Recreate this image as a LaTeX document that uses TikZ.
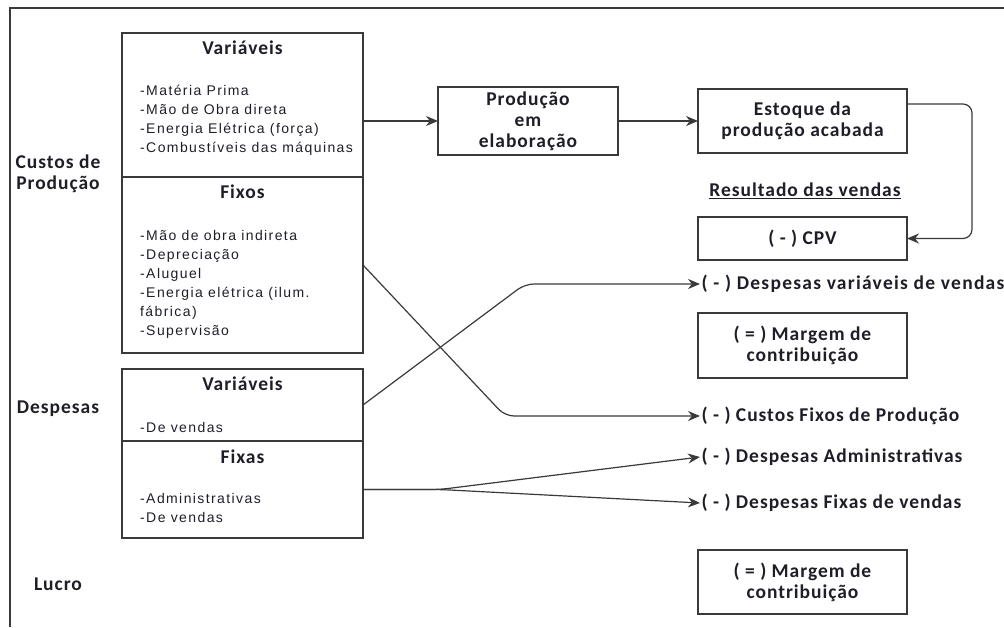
\documentclass[tikz,border=0pt]{standalone}
\usepackage{fontspec}
\usetikzlibrary{arrows.meta}
\newfontfamily\calfont[LetterSpace=5]{Carlito}
\newfontfamily\calwide[LetterSpace=6.5]{Carlito}
\newfontfamily\arialfont[LetterSpace=10]{Liberation Sans}
\newcommand\headtxt{\calfont\bfseries\fontsize{19.5}{21}\selectfont}
\newcommand\itemtxt{\arialfont\fontsize{14}{19}\selectfont}
\definecolor{linegray}{HTML}{3A3A3A}
\definecolor{txtdark}{HTML}{1E1E28}
\tikzset{
  box/.style={draw=linegray, line width=1.3pt, inner sep=0pt, outer sep=0pt},
  head/.style={font=\headtxt, text=txtdark, align=center, inner sep=0pt},
  item/.style={font=\itemtxt, text=txtdark, align=left, anchor=base west, inner sep=0pt},
  lab/.style={font=\headtxt, text=txtdark, anchor=west, inner xsep=1.5pt, inner ysep=0pt},
  conn/.style={draw=linegray, line width=1.2pt, rounded corners=9pt},
  arr/.style={conn, -{Stealth[length=12pt,width=10pt]}}
}
\begin{document}
\begin{tikzpicture}[x=1pt,y=-1pt]
\useasboundingbox (0,0) rectangle (1004,627);
% moldura
\draw[linegray, line width=1.3pt] (10,627) -- (10,8) -- (1004,8);
% rotulos da esquerda
\node[head] (custos) at (58,174) {Custos de\\Produção};
\node[head] (desp) at (58,409) {Despesas};
\node[head] (lucro) at (58,584) {Lucro};
% custos de producao (base = ultima linha)
\node[box, minimum width=241pt, minimum height=144pt] (cvar) at (242.5,105) {};
\node[box, minimum width=241pt, minimum height=176pt] (cfix) at (242.5,265) {};
\node[head] at (242.5,48) {Variáveis};
\node[item] at (140,152) {-Matéria Prima\\-Mão de Obra direta\\-Energia Elétrica (força)\\-Combustíveis das máquinas};
\node[head] at (242.5,192) {Fixos};
\node[item] at (140,335) {-Mão de obra indireta\\-Depreciação\\-Aluguel\\-Energia elétrica (ilum.\\fábrica)\\-Supervisão};
% despesas
\node[box, minimum width=241pt, minimum height=72pt] (dvar) at (242.5,405) {};
\node[box, minimum width=241pt, minimum height=97pt] (dfix) at (242.5,489.5) {};
\node[head] at (242.5,384) {Variáveis};
\node[item] at (140,432) {-De vendas};
\node[head] at (242.5,457) {Fixas};
\node[item] at (140,522) {-Administrativas\\-De vendas};
% fluxo da producao
\node[box, head, minimum width=180pt, minimum height=68pt] (prod) at (528,121) {Produção\\em\\elaboração};
\node[box, head, minimum width=209pt, minimum height=64pt] (est) at (802.5,121) {Estoque da\\produção acabada};
\node[head] (res) at (805,191) {\underline{Resultado das vendas}};
\node[box, head, minimum width=209pt, minimum height=43pt] (cpv) at (802.5,238.5) {( - ) CPV};
\node[lab, font=\calwide\bfseries\fontsize{19.5}{21}\selectfont] (dvv) at (700,284) {( - ) Despesas variáveis de vendas};
\node[box, head, minimum width=209pt, minimum height=65pt] (mc1) at (802.5,345.5) {( = ) Margem de\\contribuição};
\node[lab] (cfp) at (700,416) {( - ) Custos Fixos de Produção};
\node[lab] (dadm) at (700,457) {( - ) Despesas Administrativas};
\node[lab] (dfv) at (700,503) {( - ) Despesas Fixas de vendas};
\node[box, head, minimum width=209pt, minimum height=64pt] (mc2) at (802.5,582) {( = ) Margem de\\contribuição};
% ligacoes
\draw[arr] (prod.west -| cvar.east) -- (prod.west);
\draw[arr] (prod.east) -- (est.west);
\draw[arr] ([yshift=-15pt]est.north east) -- ++(65,0) |- (cpv.east);
\draw[arr] (cfix.east) -- ++(142,151) -- (cfp.west);
\draw[arr] (dvar.east) -- ++(162,-121) -- (dvv.west);
\draw[arr] (dfix.east) -- ++(77,0) -- (dadm.west);
\draw[arr] (dfix.east) -- ++(77,0) -- (dfv.west);
\end{tikzpicture}
\end{document}
